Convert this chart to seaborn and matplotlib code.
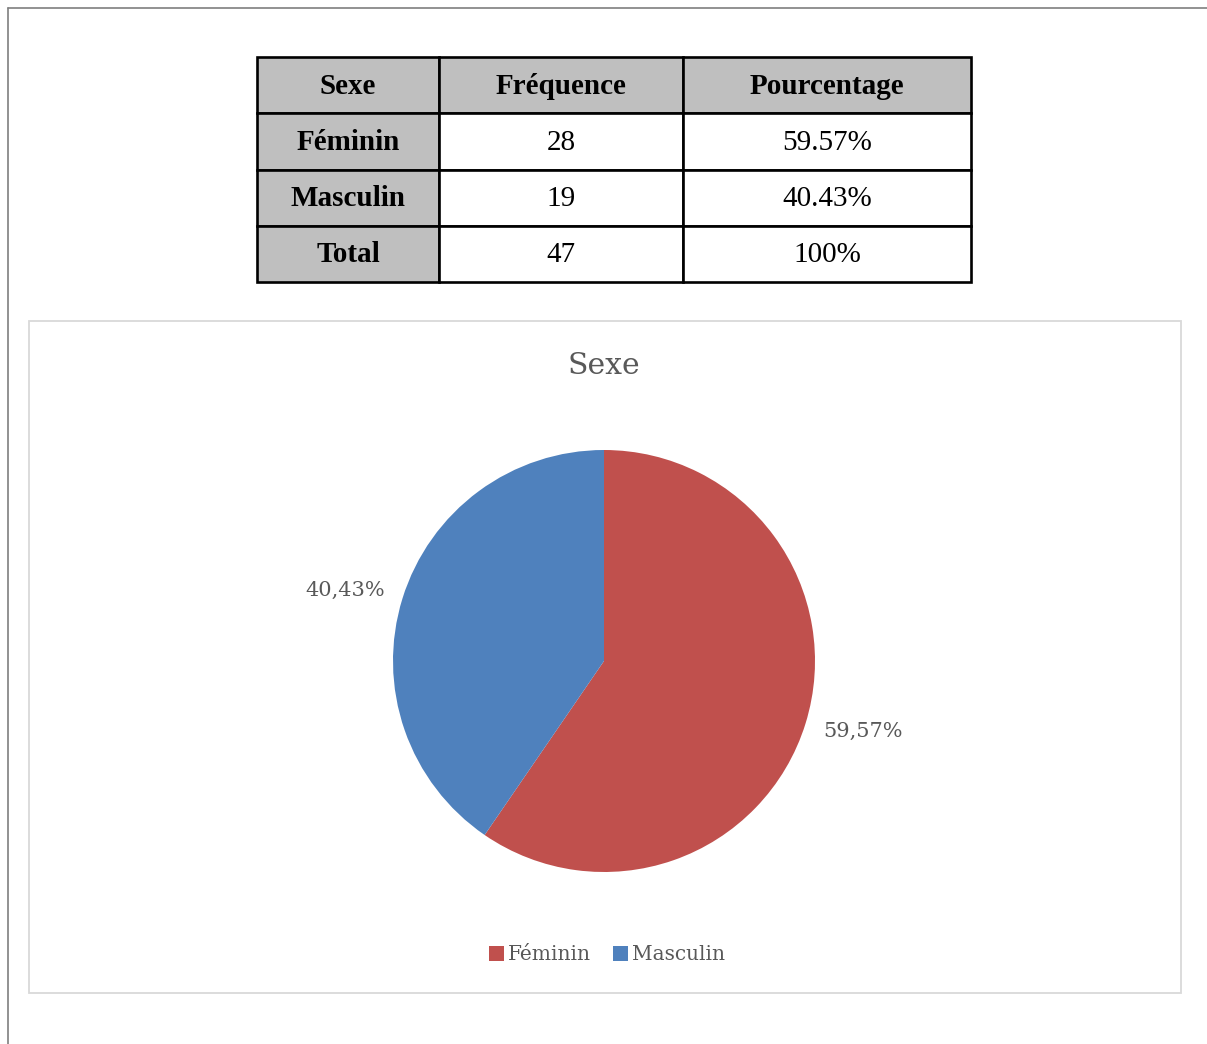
import matplotlib
matplotlib.use("Agg")
import matplotlib.pyplot as plt
from matplotlib.patches import Rectangle
import numpy as np
import seaborn as sns

# Données
categories = ["Féminin", "Masculin"]
frequences = [28, 19]
pourcentages = [59.57, 40.43]
en_tetes = ["Sexe", "Fréquence", "Pourcentage"]
lignes = ["Féminin", "Masculin", "Total"]
col_freq = ["28", "19", "47"]
col_pct = ["59.57%", "40.43%", "100%"]

sns.set_style("white")
couleurs = sns.color_palette(["#C0504D", "#4F81BD"])

W, H = 1207, 1044
fig = plt.figure(figsize=(W / 100, H / 100), dpi=100)

# fond en coordonnées pixels
bg = fig.add_axes([0, 0, 1, 1])
bg.set_xlim(0, W)
bg.set_ylim(H, 0)
bg.axis("off")

# bordure de page
bg.plot([8, W], [8, 8], color="#7f7f7f", lw=1.2)
bg.plot([8, 8], [8, H], color="#7f7f7f", lw=1.2)

# 1. Tableau
xs = [257, 439, 683, 971]
ys = [57, 113, 170, 226, 282]
gris = "#BFBFBF"
tf = dict(family="Liberation Serif", fontsize=21, color="black")
lw_t = 1.9

for j in range(3):
    bg.add_patch(Rectangle((xs[j], ys[0]), xs[j + 1] - xs[j], ys[1] - ys[0],
                           facecolor=gris, edgecolor="black", lw=lw_t))
    bg.text((xs[j] + xs[j + 1]) / 2, (ys[0] + ys[1]) / 2 + 1, en_tetes[j],
            ha="center", va="center", fontweight="bold", **tf)

for i in range(3):
    y0, y1 = ys[i + 1], ys[i + 2]
    ym = (y0 + y1) / 2 + 1
    bg.add_patch(Rectangle((xs[0], y0), xs[1] - xs[0], y1 - y0,
                           facecolor=gris, edgecolor="black", lw=lw_t))
    bg.add_patch(Rectangle((xs[1], y0), xs[2] - xs[1], y1 - y0,
                           facecolor="white", edgecolor="black", lw=lw_t))
    bg.add_patch(Rectangle((xs[2], y0), xs[3] - xs[2], y1 - y0,
                           facecolor="white", edgecolor="black", lw=lw_t))
    bg.text((xs[0] + xs[1]) / 2, ym, lignes[i], ha="center", va="center",
            fontweight="bold", **tf)
    bg.text((xs[1] + xs[2]) / 2, ym, col_freq[i], ha="center", va="center", **tf)
    bg.text((xs[2] + xs[3]) / 2, ym, col_pct[i], ha="center", va="center", **tf)

# cadre du graphique
bg.add_patch(Rectangle((29, 321), 1181 - 29, 993 - 321, facecolor="none",
                       edgecolor="#d9d9d9", lw=1.3))

# 2. Camembert
gris_txt = "#595959"
fig.text(604 / W, 1 - 366 / H, "Sexe", ha="center", va="center",
         family="DejaVu Serif", fontsize=21.5, color=gris_txt)

r = 211
ax = fig.add_axes([(604 - r) / W, (H - 661 - r) / H, 2 * r / W, 2 * r / H])
parts, _, autotexts = ax.pie(
    pourcentages, colors=couleurs, startangle=90, counterclock=False,
    autopct=lambda p: f"{p:.2f}%".replace(".", ","), pctdistance=1.27,
    wedgeprops=dict(linewidth=0),
    textprops=dict(family="DejaVu Serif", fontsize=15, color=gris_txt))
# étiquettes légèrement décalées comme dans Excel
for w, t in zip(parts, autotexts):
    a = np.deg2rad((w.theta1 + w.theta2) / 2 + 2)
    t.set_position((1.27 * np.cos(a), 1.27 * np.sin(a)))
ax.set_xlim(-1, 1)
ax.set_ylim(-1, 1)
ax.set_aspect("equal")

fig.legend(parts, categories, loc="center", bbox_to_anchor=(607 / W, 1 - 955 / H),
           ncol=2, frameon=False, handlelength=0.75, handleheight=0.75,
           handletextpad=0.2, columnspacing=1.1,
           prop=dict(family="DejaVu Serif", size=14.5), labelcolor=gris_txt)

fig.savefig("out.png", dpi=100, facecolor="white")
